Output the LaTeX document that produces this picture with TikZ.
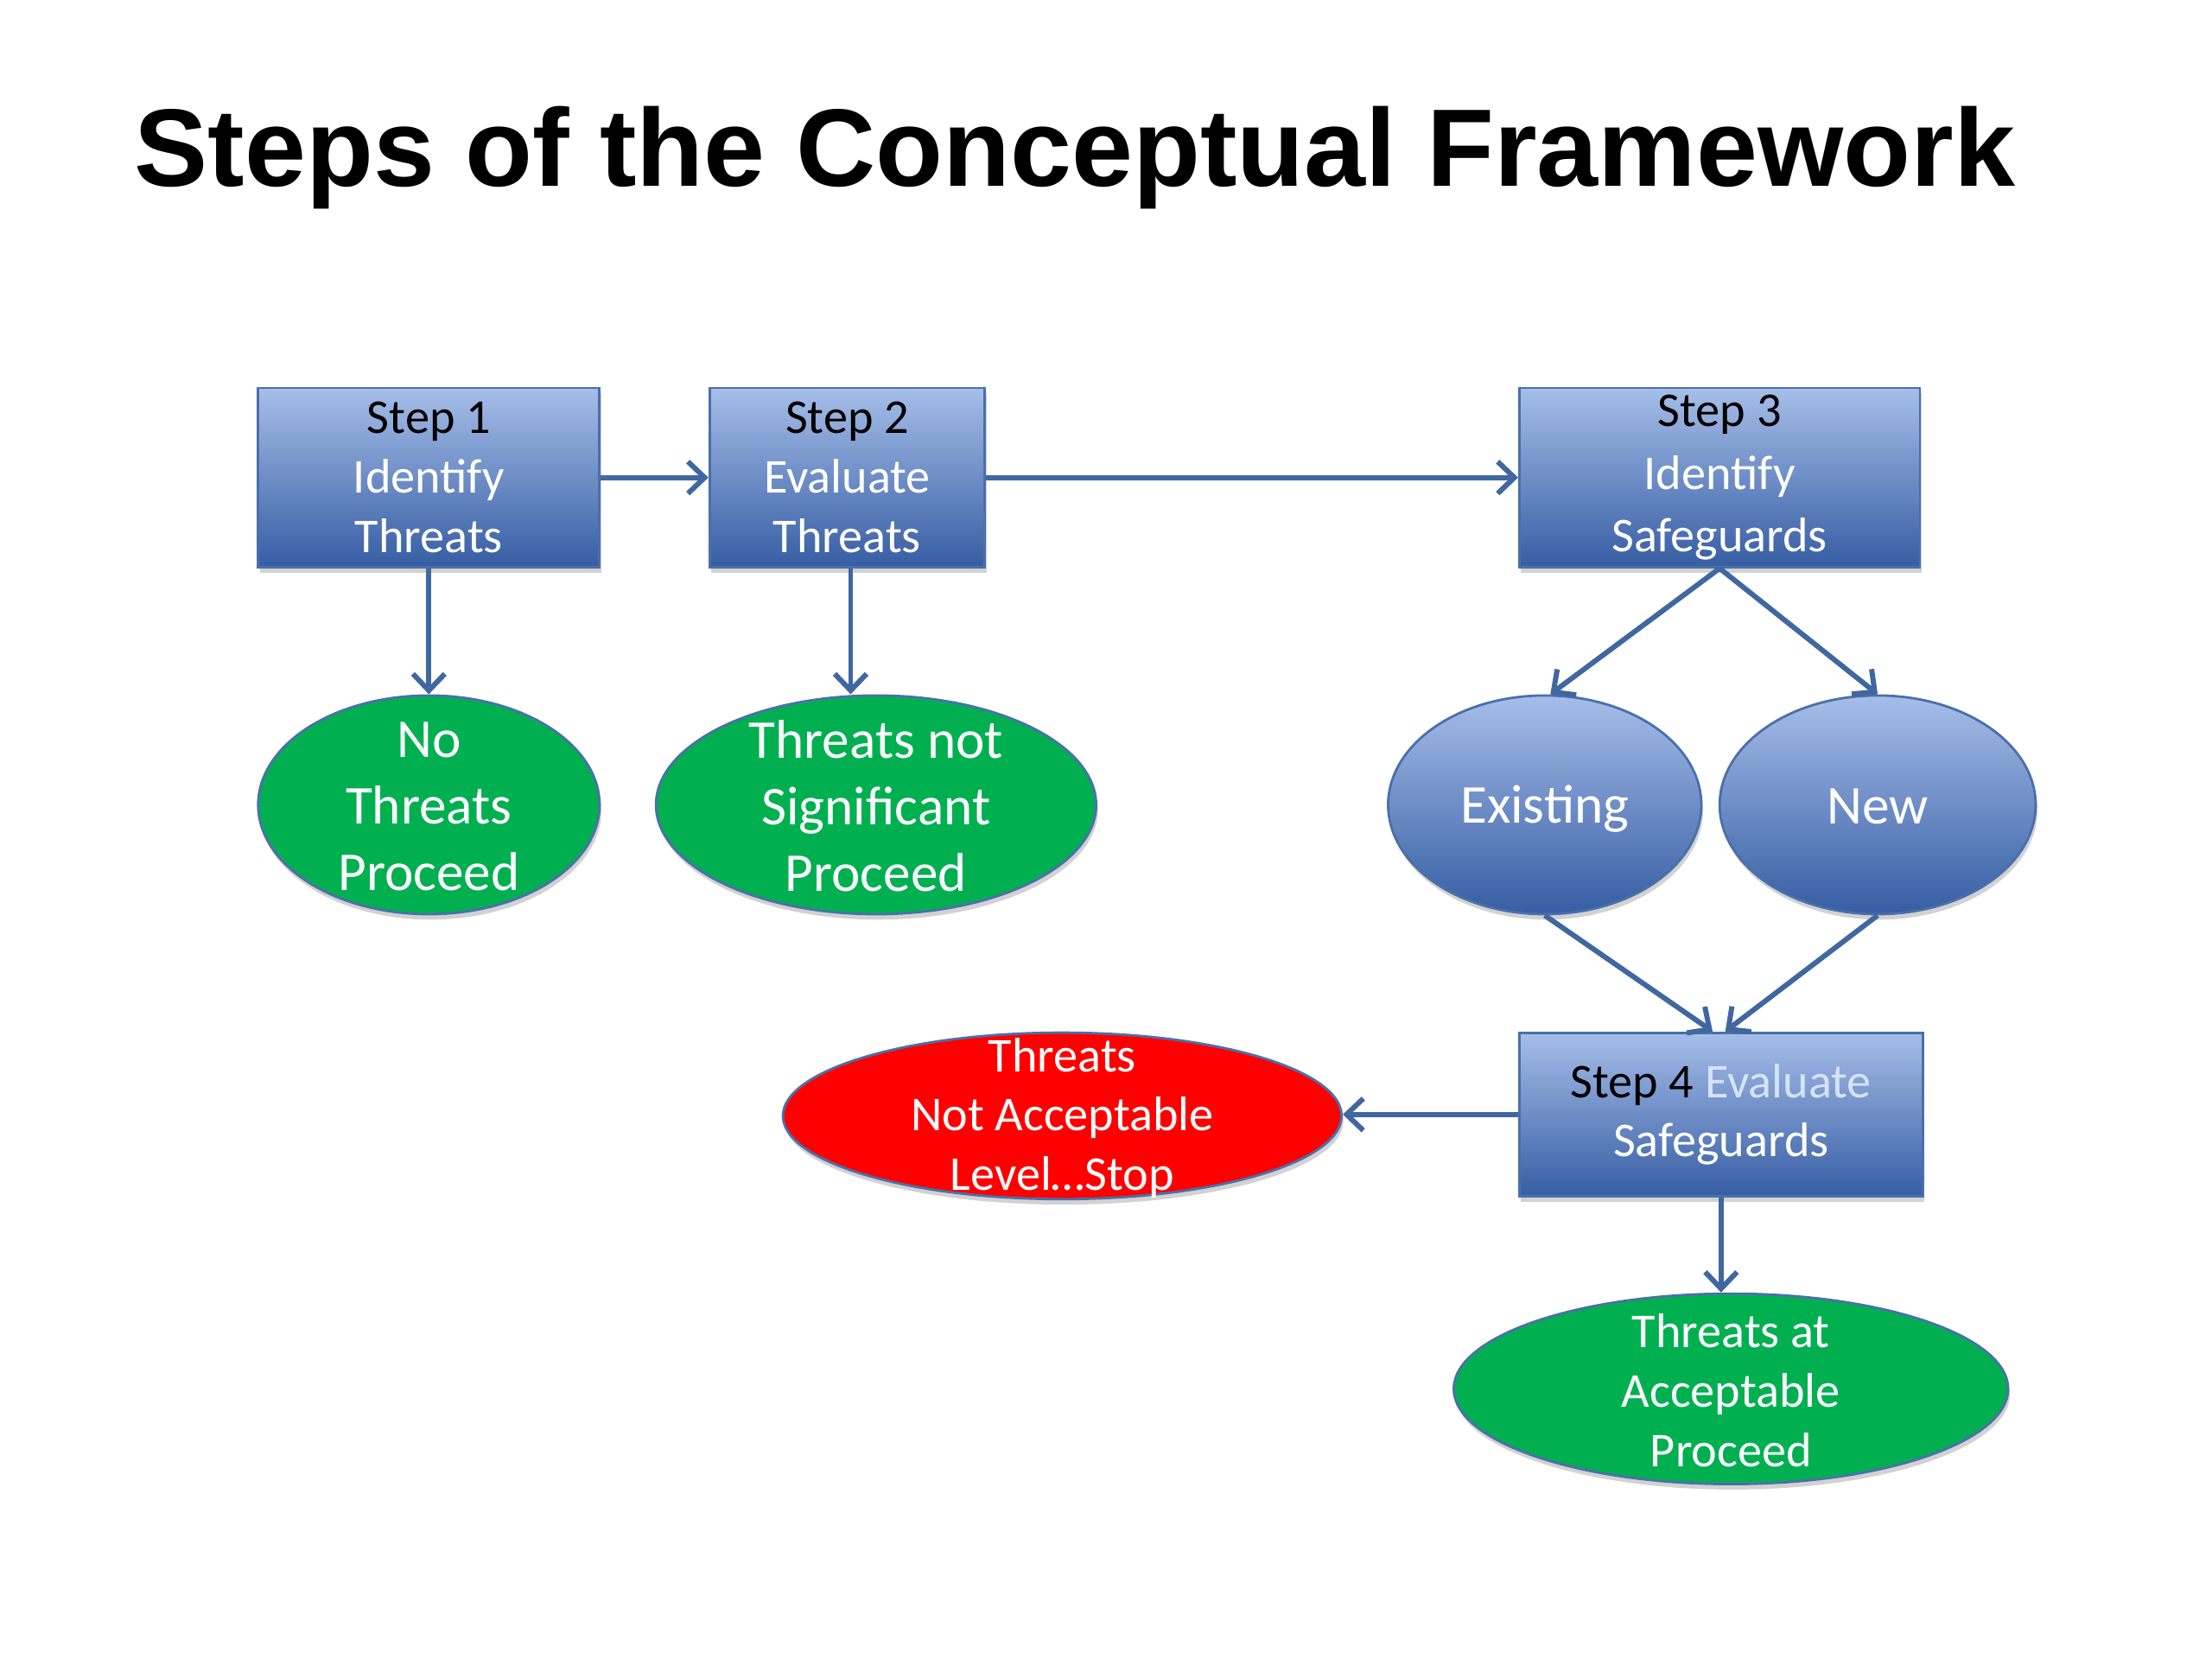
\documentclass[tikz,border=0pt]{standalone}
\usepackage{fontspec}
\setmainfont{Carlito}
\newfontfamily\titlefont{Liberation Sans}
\usetikzlibrary{shapes.geometric,arrows.meta,shadows}
\definecolor{boxtop}{RGB}{166,190,233}
\definecolor{boxbot}{RGB}{54,93,163}
\definecolor{boxline}{RGB}{74,112,170}
\definecolor{arrowc}{RGB}{64,103,160}
\definecolor{okgreen}{RGB}{0,176,80}
\definecolor{stopred}{RGB}{255,0,0}
\definecolor{paleblue}{RGB}{214,226,246}
\def\PX{0.16327mm}
\tikzset{
  softshadow/.style={drop shadow={shadow xshift=0.6pt, shadow yshift=-1.8pt, opacity=0.25, fill=black!70}},
  stepbox/.style={rectangle, draw=boxline, line width=0.8pt, top color=boxtop, bottom color=boxbot,
    softshadow, inner sep=0pt, text=white, align=center, font=\fontsize{16}{19.6}\selectfont},
  blob/.style={ellipse, draw=boxline, line width=0.8pt, inner sep=0pt, softshadow},
  blueblob/.style={blob, top color=boxtop, bottom color=boxbot},
  lbl/.style={align=center, text=white, inner sep=0pt},
  bigtext/.style={font=\fontsize{18}{21.9}\selectfont},
  smalltext/.style={font=\fontsize{16}{19.6}\selectfont},
  flow/.style={draw=arrowc, line width=1.7pt, -{Straight Barb[length=5.5pt,width=10.5pt]}}
}
\begin{document}
\begin{tikzpicture}[x=\PX, y=-\PX]
\fill[white] (0,0) rectangle (1568,1176);
\useasboundingbox (0,0) rectangle (1568,1176);

\node[anchor=base west, inner sep=0pt, font=\titlefont\bfseries\fontsize{36.3}{44}\selectfont] (title) at (95,132) {Steps of the Conceptual Framework};

% step boxes
\node[stepbox, minimum width=242*\PX, minimum height=127*\PX] (s1) at (304,338.5) {{\color{black}Step 1}\\Identify\\Threats};
\node[stepbox, minimum width=195*\PX, minimum height=127*\PX] (s2) at (600.5,338.5) {{\color{black}Step 2}\\Evaluate\\Threats};
\node[stepbox, minimum width=284*\PX, minimum height=127*\PX, font=\fontsize{16}{20.6}\selectfont] (s3) at (1219,338.5) {{\color{black}Step 3}\\Identify\\Safeguards};
\node[stepbox, minimum width=286*\PX, minimum height=116*\PX] (s4) at (1220,790) {{\color{black}Step 4} {\color{paleblue}Evaluate}\\Safeguards};

% ellipses
\node[blob, fill=okgreen, minimum width=242*\PX, minimum height=155*\PX] (e1) at (304,570.5) {};
\node[lbl, bigtext] (e1t) at ([yshift=-1*\PX]e1.center) {No\\Threats\\Proceed};
\node[blob, fill=okgreen, minimum width=312*\PX, minimum height=155*\PX] (e2) at (621,570.5) {};
\node[lbl, bigtext] (e2t) at ([yshift=-1*\PX]e2.center) {Threats not\\Significant\\Proceed};
\node[blueblob, minimum width=222*\PX, minimum height=155*\PX] (ex) at (1095,570.5) {};
\node[lbl, bigtext] (ext) at ([yshift=-3*\PX]ex.center) {Existing};
\node[blueblob, minimum width=224*\PX, minimum height=155*\PX] (nw) at (1331,570.5) {};
\node[lbl, bigtext] (nwt) at ([yshift=-1*\PX]nw.center) {New};
\node[blob, fill=stopred, minimum width=396*\PX, minimum height=118*\PX] (red) at (753,791) {};
\node[lbl, smalltext] (redt) at ([yshift=-1.5*\PX]red.center) {Threats\\Not Acceptable\\Level\ldots Stop};
\node[blob, fill=okgreen, minimum width=393*\PX, minimum height=135*\PX] (ok) at (1227,984.5) {};
\node[lbl, smalltext] (okt) at ([yshift=-1*\PX]ok.center) {Threats at\\Acceptable\\Proceed};

% connectors
\draw[flow] (s1) -- (s2);
\draw[flow] (s2) -- (s3);
\draw[flow] (s1.south) -- (e1.north);
\draw[flow] ([xshift=2.5*\PX]s2.south) -- ([xshift=2.5*\PX]s2.south |- e2.north);
\draw[flow] (s3.south) -- ([xshift=4*\PX]ex.north);
\draw[flow] (s3.south) -- (nw.north);
\draw[flow] (ex.south) -- ([xshift=-6*\PX]s4.north);
\draw[flow] (nw.south) -- ([xshift=3*\PX]s4.north);
\draw[flow] (s4.west) -- (s4.west -| red.east);
\draw[flow] (s4.south) -- (s4.south |- ok.north);
\end{tikzpicture}
\end{document}
